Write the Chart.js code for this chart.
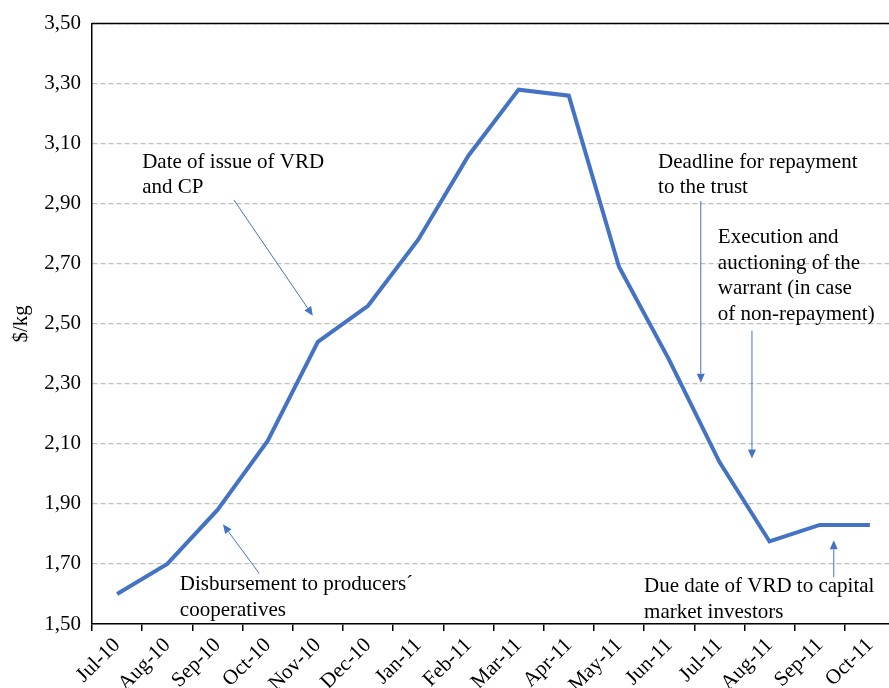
<!DOCTYPE html>
<html>
<head>
<meta charset="utf-8">
<script src="https://cdn.jsdelivr.net/npm/chart.js@4.4.1/dist/chart.umd.min.js"></script>
<style>
    html, body { margin: 0; padding: 0; background: #fff; overflow: hidden; }
    #wrap { width: 896px; height: 688px; position: relative; }
</style>
</head>
<body>
<div id="wrap"><canvas id="myChart"></canvas></div>
<script>
const months = ['Jul-10', 'Aug-10', 'Sep-10', 'Oct-10', 'Nov-10', 'Dec-10', 'Jan-11', 'Feb-11',
    'Mar-11', 'Apr-11', 'May-11', 'Jun-11', 'Jul-11', 'Aug-11', 'Sep-11', 'Oct-11'];
const prices = [1.60, 1.70, 1.88, 2.11, 2.44, 2.56, 2.78, 3.06,
    3.28, 3.26, 2.69, 2.38, 2.04, 1.775, 1.83, 1.83];

// notes: text lines, text anchor (x index, y value), arrow from -> to (x index, y value)
const noteTexts = [
    ['Date of issue of VRD', 'and CP'],
    ['Disbursement to producers\u00b4', 'cooperatives'],
    ['Deadline for repayment', 'to the trust'],
    ['Execution and', 'auctioning of the', 'warrant (in case', 'of non-repayment)'],
    ['Due date of VRD to capital', 'market investors']
];
const noteAnchors = [[0.50, 3.02], [1.25, 1.613], [10.78, 3.02], [11.97, 2.769], [10.50, 1.606]];
const noteArrows = [
    [2.33, 2.912, 3.90, 2.527],
    [2.83, 1.669, 2.11, 1.832],
    [11.63, 2.909, 11.63, 2.304],
    [12.65, 2.477, 12.65, 2.051],
    [14.28, 1.656, 14.28, 1.779]
];

const serif = '"Liberation Serif", "Times New Roman", serif';
const blue = '#4472C4';

const notesPlugin = {
    id: 'notes',
    afterDatasetsDraw(chart) {
        const c = chart.ctx;
        const xs = chart.scales.x, ys = chart.scales.y;
        const area = chart.chartArea;
        c.save();
        // frame line on top
        c.strokeStyle = '#000';
        c.lineWidth = 1.5;
        c.beginPath();
        c.moveTo(area.left, area.top);
        c.lineTo(area.right, area.top);
        c.stroke();

        c.font = '21px ' + serif;
        c.fillStyle = '#000';
        c.textBaseline = 'alphabetic';
        c.textAlign = 'left';
        noteTexts.forEach(function(lines, i) {
            const x = xs.getPixelForValue(noteAnchors[i][0]);
            const y = ys.getPixelForValue(noteAnchors[i][1]);
            lines.forEach(function(t, k) {
                c.fillText(t, x, y + k * 25.5);
            });
        });

        c.strokeStyle = blue;
        c.fillStyle = blue;
        c.lineWidth = 1;
        noteArrows.forEach(function(a) {
            const x1 = xs.getPixelForValue(a[0]), y1 = ys.getPixelForValue(a[1]);
            const x2 = xs.getPixelForValue(a[2]), y2 = ys.getPixelForValue(a[3]);
            const ang = Math.atan2(y2 - y1, x2 - x1);
            const len = 9, half = 4;
            const bx = x2 - len * Math.cos(ang), by = y2 - len * Math.sin(ang);
            c.beginPath();
            c.moveTo(x1, y1);
            c.lineTo(bx, by);
            c.stroke();
            c.beginPath();
            c.moveTo(x2, y2);
            c.lineTo(bx + half * Math.sin(ang), by - half * Math.cos(ang));
            c.lineTo(bx - half * Math.sin(ang), by + half * Math.cos(ang));
            c.closePath();
            c.fill();
        });
        c.restore();
    }
};

const ctx = document.getElementById('myChart');

new Chart(ctx, {
    type: 'line',
    data: {
        labels: months,
        datasets: [{
            label: 'Price',
            data: prices,
            borderColor: blue,
            borderWidth: 4,
            pointRadius: 0,
            tension: 0,
            fill: false
        }]
    },
    options: {
        responsive: true,
        maintainAspectRatio: false,
        animation: false,
        layout: {
            padding: { top: 22, left: 0, right: 1, bottom: 0 }
        },
        plugins: {
            legend: false,
            tooltip: { enabled: false }
        },
        scales: {
            x: {
                offset: true,
                grid: {
                    offset: true,
                    drawOnChartArea: false,
                    drawTicks: true,
                    tickLength: 7,
                    color: '#000',
                    lineWidth: 1.5
                },
                border: { color: '#000', width: 1.5 },
                ticks: {
                    color: '#000',
                    font: { family: serif, size: 21 },
                    minRotation: 45,
                    maxRotation: 45,
                    autoSkip: false,
                    padding: 2
                },
                afterFit: function(scale) { scale.height = 64; }
            },
            y: {
                min: 1.5,
                max: 3.5,
                grid: {
                    color: '#bfbfbf',
                    lineWidth: 1.2,
                    drawTicks: false
                },
                border: { color: '#000', width: 1.5, dash: [5, 3] },
                ticks: {
                    stepSize: 0.2,
                    color: '#000',
                    font: { family: serif, size: 21 },
                    padding: 11,
                    callback: function(v) { return v.toFixed(2).replace('.', ','); }
                },
                title: {
                    display: true,
                    text: '$/kg',
                    color: '#000',
                    font: { family: serif, size: 21 },
                    padding: { top: 9, bottom: 0 }
                },
                afterFit: function(scale) { scale.width = 92; }
            }
        }
    },
    plugins: [notesPlugin]
});
</script>
</body>
</html>
